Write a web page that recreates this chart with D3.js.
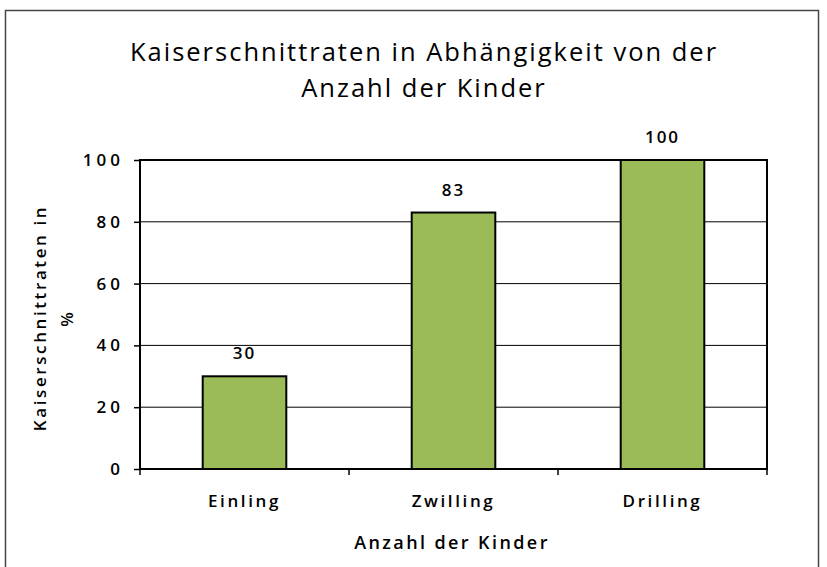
<!DOCTYPE html>
<html><head><meta charset="utf-8">
<script src="https://cdn.jsdelivr.net/npm/d3@7/dist/d3.min.js"></script>
<style>body{margin:0;background:#fff}svg{display:block}text{font-family:"Open Sans",sans-serif;fill:#000}</style>
</head><body><svg id="c" width="827" height="567"></svg>
<script>
const categories = ["Einling","Zwilling","Drilling"];
const values = [30, 83, 100];
const yTicks = [0,20,40,60,80,100];
const titleLines = ["Kaiserschnittraten in Abhängigkeit von der","Anzahl der Kinder"];
const yTitleLines = ["Kaiserschnittraten in","%"];
const xTitle = "Anzahl der Kinder";

const svg = d3.select("#c");
svg.append("rect").attr("x",5.5).attr("y",10.5).attr("width",813).attr("height",570)
  .attr("fill","none").attr("stroke","#444").attr("stroke-width",1.5);

const L=140,R=767,T=160,B=469;
const x = d3.scaleBand().domain(categories).range([L,R]).paddingInner(0.6).paddingOuter(0.3);
const y = d3.scaleLinear().domain([0,100]).range([B,T]);

// gridlines
svg.append("g").selectAll("line").data(yTicks.filter(d=>d>0&&d<100)).join("line")
  .attr("x1",L).attr("x2",R).attr("y1",d=>y(d)).attr("y2",d=>y(d))
  .attr("stroke","#000").attr("stroke-width",1);

// bars
svg.append("g").selectAll("rect").data(values).join("rect")
  .attr("x",(d,i)=>x(categories[i])).attr("width",x.bandwidth())
  .attr("y",d=>y(d)).attr("height",d=>y(0)-y(d))
  .attr("fill","#9BBB59").attr("stroke","#000").attr("stroke-width",2);

// plot border
svg.append("rect").attr("x",L).attr("y",T).attr("width",R-L).attr("height",B-T)
  .attr("fill","none").attr("stroke","#000").attr("stroke-width",2);

// y axis
const ya = svg.append("g").attr("transform",`translate(${L},0)`)
  .call(d3.axisLeft(y).tickValues(yTicks).tickSize(6).tickPadding(14).tickFormat(d3.format("d")));
ya.select(".domain").remove();
ya.selectAll("line").attr("stroke","#000").attr("stroke-width",1.5);
ya.selectAll("text").style("font-size","17px").style("font-weight","600").style("letter-spacing","4px").attr("dx","4px");

// x axis tick marks at band boundaries
const bounds = [L, L+ (R-L)/3, L+2*(R-L)/3, R];
svg.append("g").selectAll("line").data(bounds).join("line")
  .attr("x1",d=>d).attr("x2",d=>d).attr("y1",B).attr("y2",B+6)
  .attr("stroke","#000").attr("stroke-width",1.5);
svg.append("g").selectAll("text").data(categories).join("text")
  .attr("x",d=>x(d)+x.bandwidth()/2).attr("y",B+38)
  .attr("text-anchor","middle").style("font-size","17px").style("font-weight","600").style("letter-spacing","2.6px")
  .text(d=>d);

// data labels
svg.append("g").selectAll("text").data(values).join("text")
  .attr("x",(d,i)=>x(categories[i])+x.bandwidth()/2).attr("y",d=>y(d)-17)
  .attr("text-anchor","middle").style("font-size","17px").style("font-weight","600").style("letter-spacing","2px")
  .text(d=>d);

// title
svg.append("g").selectAll("text").data(titleLines).join("text")
  .attr("x",424).attr("y",(d,i)=>61+i*36).attr("text-anchor","middle")
  .style("font-size","25.5px").style("letter-spacing","2px").text(d=>d);

// y title
svg.append("g").attr("transform","translate(0,318) rotate(-90)").selectAll("text").data(yTitleLines).join("text")
  .attr("x",0).attr("y",(d,i)=>46+i*27).attr("text-anchor","middle")
  .style("font-size","17px").style("font-weight","600").style("letter-spacing","2.6px").text(d=>d);

// x title
svg.append("text").attr("x",452).attr("y",549).attr("text-anchor","middle")
  .style("font-size","18px").style("font-weight","600").style("letter-spacing","2.4px").text(xTitle);
</script></body></html>
